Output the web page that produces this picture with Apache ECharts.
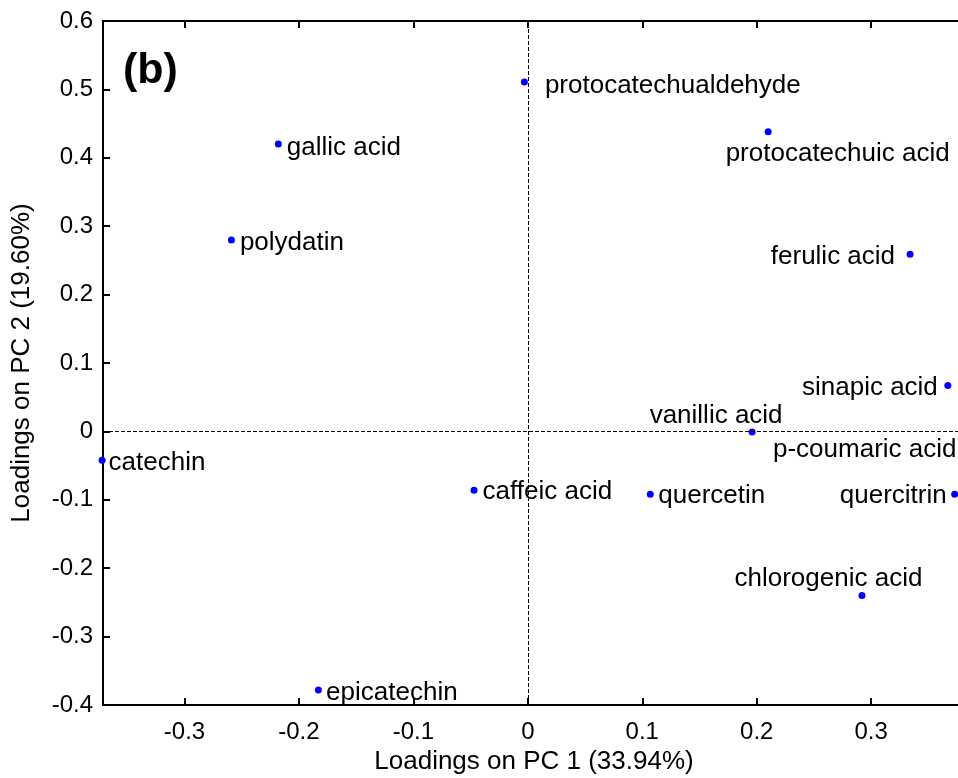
<!DOCTYPE html>
<html><head><meta charset="utf-8">
<script src="https://cdn.jsdelivr.net/npm/echarts@6/dist/echarts.min.js"></script>
<style>html,body{margin:0;padding:0;background:#fff}#c{width:958px;height:778px}</style>
</head><body><div id="c"></div>
<script>
// ---- data ----
const compounds = ['protocatechualdehyde','gallic acid','polydatin','protocatechuic acid','ferulic acid','sinapic acid','vanillic acid','p-coumaric acid','quercetin','quercitrin','chlorogenic acid','catechin','caffeic acid','epicatechin'];
const pc1Loadings = [-0.003, -0.218, -0.259, 0.210, 0.334, 0.367, 0.196, 0.382, 0.107, 0.373, 0.292, -0.372, -0.047, -0.183];
const pc2Loadings = [0.511, 0.420, 0.280, 0.438, 0.259, 0.067, -0.001, -0.025, -0.092, -0.092, -0.240, -0.042, -0.086, -0.378];
const xTickValues = [-0.3, -0.2, -0.1, 0, 0.1, 0.2, 0.3, 0.4];
const yTickValues = [-0.4, -0.3, -0.2, -0.1, 0, 0.1, 0.2, 0.3, 0.4, 0.5, 0.6];
const xAxisTitle = 'Loadings on PC 1 (33.94%)';
const yAxisTitle = 'Loadings on PC 2 (19.60%)';
const panelTag = '(b)';

// ---- label placement (style, not data) ----
const labelPlacement = [
  ['right', 12, 4], ['right', 0, 4], ['right', 0, 3], ['right', -51, 22],
  ['left', -6.5, 2.5], ['left', -1.5, 2], ['right', -111, -16], ['right', -200.5, 1.5],
  ['right', -0.5, 2], ['left', 0.5, 2], ['right', -136, -17], ['right', -2, 2.5],
  ['right', 0, 2], ['right', -0.8, 3]
];

const FONT = '"Liberation Sans", Arial, Helvetica, sans-serif';
const fmt = v => {
  const r = Math.round(v * 10) / 10;
  if (Math.abs(v - r) > 1e-6) return '';
  return (Math.abs(r) < 1e-9 ? 0 : r).toString();
};

const X_MIN = -0.3712, X_MAX = 0.382;

const points = compounds.map((name, i) => ({
  name: name,
  value: [pc1Loadings[i], pc2Loadings[i]],
  label: {
    show: true,
    formatter: name,
    color: '#000',
    position: labelPlacement[i][0],
    offset: [labelPlacement[i][1], labelPlacement[i][2]]
  }
}));

const chart = echarts.init(document.getElementById('c'), null, {renderer: 'canvas'});
chart.setOption({
  animation: false,
  backgroundColor: '#fff',
  grid: {left: 103, right: -7, top: 21, bottom: 73, outerBoundsMode: 'none', containLabel: false},
  xAxis: [{
    type: 'value', min: X_MIN, max: X_MAX, position: 'bottom',
    name: xAxisTitle, nameLocation: 'middle', nameGap: 44,
    nameTextStyle: {fontFamily: FONT, fontSize: 26, color: '#000'},
    axisLine: {show: true, onZero: false, lineStyle: {color: '#000', width: 2}},
    axisTick: {show: true, inside: true, length: 7, lineStyle: {color: '#000', width: 2}, customValues: xTickValues},
    axisLabel: {show: true, margin: 15, fontFamily: FONT, fontSize: 24, color: '#000', formatter: fmt, customValues: xTickValues, showMinLabel: true, showMaxLabel: true},
    splitLine: {show: false}
  }, {
    type: 'value', min: X_MIN, max: X_MAX, position: 'top',
    axisLine: {show: true, onZero: false, lineStyle: {color: '#000', width: 2}},
    axisTick: {show: true, inside: true, length: 7, lineStyle: {color: '#000', width: 2}, customValues: xTickValues},
    axisLabel: {show: false},
    splitLine: {show: false}
  }],
  yAxis: [{
    type: 'value', min: -0.4, max: 0.6, interval: 0.1, position: 'left',
    name: yAxisTitle, nameLocation: 'middle', nameGap: 68, nameRotate: 90,
    nameTextStyle: {fontFamily: FONT, fontSize: 26, color: '#000'},
    axisLine: {show: true, onZero: false, lineStyle: {color: '#000', width: 2}},
    axisTick: {show: true, inside: true, length: 7, lineStyle: {color: '#000', width: 2}},
    axisLabel: {show: true, margin: 10, fontFamily: FONT, fontSize: 24, color: '#000', formatter: fmt, showMinLabel: true, showMaxLabel: true},
    splitLine: {show: false}
  }],
  graphic: [{
    type: 'text', left: 123, top: 50, z: 100,
    style: {text: panelTag, font: 'bold 43px ' + FONT, fill: '#000'}
  }],
  series: [{
    type: 'scatter',
    xAxisIndex: 0, yAxisIndex: 0,
    clip: false,
    symbol: 'circle', symbolSize: 7,
    itemStyle: {color: '#0000ff', opacity: 1},
    label: {fontFamily: FONT, fontSize: 26, color: '#000', distance: 5},
    data: points,
    markLine: {
      silent: true, symbol: 'none', animation: false,
      label: {show: false},
      lineStyle: {color: '#000', width: 1, type: [4, 2], opacity: 1},
      data: [{xAxis: 0}, {yAxis: 0}]
    }
  }]
});
</script>
</body></html>
